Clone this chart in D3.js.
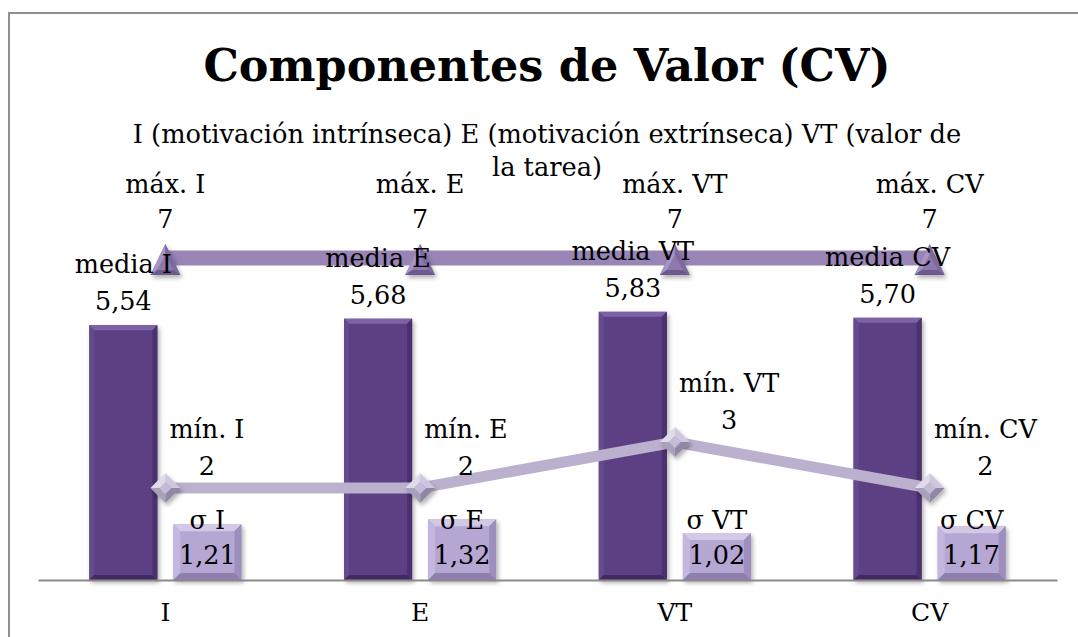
<!DOCTYPE html>
<html>
<head>
<meta charset="utf-8">
<script src="https://cdn.jsdelivr.net/npm/d3@7"></script>
<style>
  body { margin: 0; background: #fff; }
  text { font-family: "DejaVu Serif", serif; fill: #000; }
</style>
</head>
<body>
<div id="chart"></div>
<script>
// Data
const categories = ["I", "E", "VT", "CV"];
const mediaValues = [5.54, 5.68, 5.83, 5.70];
const sigmaValues = [1.21, 1.32, 1.02, 1.17];
const maxValues = [7, 7, 7, 7];
const minValues = [2, 2, 3, 2];
const titleText = "Componentes de Valor (CV)";
const subtitleLines = ["I (motivación intrínseca) E (motivación extrínseca) VT (valor de", "la tarea)"];

const W = 1078, H = 637;
const fmt = d3.formatLocale({ decimal: ",", thousands: ".", grouping: [3], currency: ["", "€"] });
const fmt2 = fmt.format(".2f");

const svg = d3.select("#chart").append("svg")
    .attr("width", W)
    .attr("height", H);

const defs = svg.append("defs");
const shadow = defs.append("filter").attr("id", "shadow")
    .attr("x", "-20%").attr("y", "-20%").attr("width", "150%").attr("height", "150%");
shadow.append("feDropShadow")
    .attr("dx", 2).attr("dy", 3).attr("stdDeviation", 2)
    .attr("flood-color", "#000").attr("flood-opacity", 0.3);

// frame
svg.append("rect").attr("width", W).attr("height", H).attr("fill", "#fff");
svg.append("rect")
    .attr("x", 9).attr("y", 13)
    .attr("width", 1120).attr("height", 700)
    .attr("fill", "none")
    .attr("stroke", "#8f8f8f")
    .attr("stroke-width", 2);

// scales
const x = d3.scaleBand().domain(categories).range([38, 1057]);
const xSub = d3.scaleBand().domain(["media", "sigma"])
    .range([0, x.bandwidth()])
    .paddingInner(0.19)
    .paddingOuter(0.61);
const y = d3.scaleLinear().domain([0, 8]).range([580, 212]);

// title
svg.append("text")
    .attr("x", 547).attr("y", 81)
    .attr("text-anchor", "middle")
    .style("font-size", "44.5px")
    .style("font-weight", "bold")
    .text(titleText);

svg.append("text")
    .attr("text-anchor", "middle")
    .style("font-size", "25.7px")
    .selectAll("tspan")
    .data(subtitleLines)
    .join("tspan")
    .attr("x", 547)
    .attr("y", (d, i) => 143 + i * 33)
    .text(d => d);

// bevelled box
function bevelBox(g, bx, by, w, h, b, c) {
    const grp = g.append("g").attr("filter", "url(#shadow)");
    grp.append("rect").attr("x", bx).attr("y", by).attr("width", w).attr("height", h).attr("fill", c.face);
    const faces = [
        [[bx, by], [bx + w, by], [bx + w - b, by + b], [bx + b, by + b], c.top],
        [[bx, by], [bx + b, by + b], [bx + b, by + h - b], [bx, by + h], c.left],
        [[bx + w, by], [bx + w, by + h], [bx + w - b, by + h - b], [bx + w - b, by + b], c.right],
        [[bx, by + h], [bx + b, by + h - b], [bx + w - b, by + h - b], [bx + w, by + h], c.bottom]
    ];
    faces.forEach(f => {
        grp.append("polygon").attr("points", f.slice(0, 4).map(p => p.join(",")).join(" ")).attr("fill", f[4]);
    });
}

const mediaCol = { face: "#5b4083", top: "#7d62a6", left: "#654b8e", right: "#4a316e", bottom: "#402a61" };
const sigmaCol = { face: "#b5a6d4", top: "#d3c9e7", left: "#c4b7df", right: "#9e8ebe", bottom: "#8f7faf" };

const gBars = svg.append("g");
categories.forEach((c, i) => {
    const bx = x(c) + xSub("media");
    bevelBox(gBars, bx, y(mediaValues[i]), xSub.bandwidth(), y(0) - y(mediaValues[i]), 5, mediaCol);
    const sx = x(c) + xSub("sigma");
    bevelBox(gBars, sx, y(sigmaValues[i]), xSub.bandwidth(), y(0) - y(sigmaValues[i]), 7, sigmaCol);
});

// axis
const xAxis = svg.append("g")
    .attr("transform", `translate(0,${y(0)})`)
    .call(d3.axisBottom(x).tickSize(0).tickSizeOuter(0).tickPadding(23));
xAxis.select(".domain").attr("stroke", "#8a8a8a").attr("stroke-width", 2);
xAxis.selectAll("text")
    .style("font-family", '"DejaVu Serif", serif')
    .style("font-size", "25px")
    .attr("fill", "#000");

// lines
const cx = c => x(c) + x.bandwidth() / 2;
const line = d3.line().x(d => cx(d.c)).y(d => y(d.v));
const maxPts = categories.map((c, i) => ({ c, v: maxValues[i] }));
const minPts = categories.map((c, i) => ({ c, v: minValues[i] }));

svg.append("path").datum(maxPts)
    .attr("d", line).attr("fill", "none")
    .attr("stroke", "#9884b5").attr("stroke-width", 15);
svg.append("path").datum(minPts)
    .attr("d", line).attr("fill", "none")
    .attr("stroke", "#bbb1cf").attr("stroke-width", 11);

// triangle markers
function poly(g, pts, fill) {
    g.append("polygon").attr("points", pts.map(p => p.join(",")).join(" ")).attr("fill", fill);
}
maxPts.forEach(d => {
    const px = cx(d.c), py = y(d.v);
    const g = svg.append("g").attr("filter", "url(#shadow)");
    const A = [px, py - 14], B = [px - 15, py + 17], C = [px + 15, py + 17];
    const a = [px, py - 3], b = [px - 8, py + 12], c = [px + 8, py + 12];
    poly(g, [A, B, C], "#8a76ab");
    poly(g, [A, B, b, a], "#a594c4");
    poly(g, [A, C, c, a], "#7d699e");
    poly(g, [B, C, c, b], "#6d5a8c");
    poly(g, [a, b, c], "#8d79ae");
});

// diamond markers
minPts.forEach(d => {
    const px = cx(d.c), py = y(d.v);
    const g = svg.append("g").attr("filter", "url(#shadow)");
    const r = 15, q = 6;
    const T = [px, py - r], R = [px + r, py], Bm = [px, py + r], L = [px - r, py];
    const t = [px, py - q], rr = [px + q, py], bb = [px, py + q], l = [px - q, py];
    poly(g, [L, T, t, l], "#e0dbea");
    poly(g, [T, R, rr, t], "#cec7dd");
    poly(g, [R, Bm, bb, rr], "#8f87a4");
    poly(g, [Bm, L, l, bb], "#a9a1bc");
    poly(g, [t, rr, bb, l], "#c4bcd6");
});

// labels
const gLab = svg.append("g").style("font-size", "25.5px");

function twoLine(g, lx, l1, l2, y1, y2) {
    const t = g.append("text").attr("text-anchor", "middle");
    t.append("tspan").attr("x", lx).attr("y", y1).text(l1);
    t.append("tspan").attr("x", lx).attr("y", y2).text(l2);
    return t;
}

categories.forEach((c, i) => {
    // max, above the point
    const py = y(maxValues[i]);
    twoLine(gLab, cx(c), "máx. " + c, maxValues[i], py - 65, py - 30);
    // media, above the bar
    const mx = x(c) + xSub("media") + xSub.bandwidth() / 2;
    const mt = y(mediaValues[i]);
    twoLine(gLab, mx, "media " + c, fmt2(mediaValues[i]), mt - 52, mt - 15);
    // min, left edge just right of point
    const ny = y(minValues[i]);
    const t = twoLine(gLab, 0, "mín. " + c, minValues[i], ny - 50, ny - 13);
    const w = t.node().getBBox().width;
    t.selectAll("tspan").attr("x", cx(c) + 4 + w / 2);
    // sigma, inside base
    const sx = x(c) + xSub("sigma") + xSub.bandwidth() / 2;
    twoLine(gLab, sx, "σ " + c, fmt2(sigmaValues[i]), y(0) - 51, y(0) - 16);
});
</script>
</body>
</html>
